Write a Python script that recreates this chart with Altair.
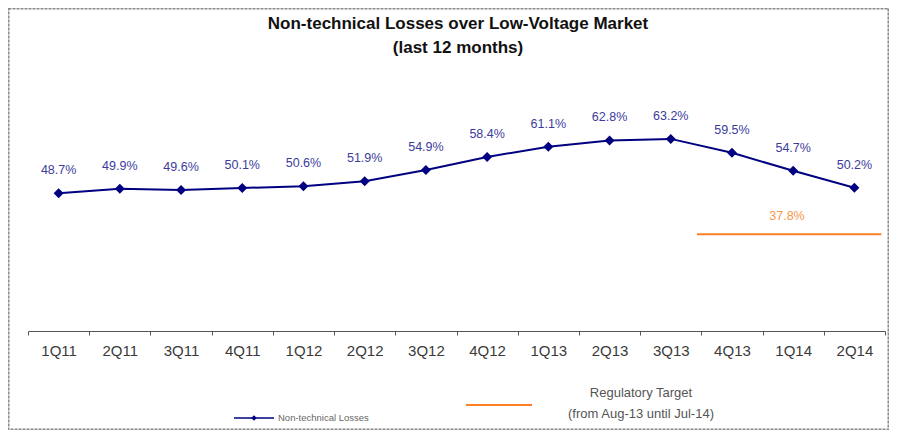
import altair as alt
import pandas as pd

# ---- data ----
quarters = ["1Q11", "2Q11", "3Q11", "4Q11", "1Q12", "2Q12", "3Q12",
            "4Q12", "1Q13", "2Q13", "3Q13", "4Q13", "1Q14", "2Q14"]
losses = [48.7, 49.9, 49.6, 50.1, 50.6, 51.9, 54.9,
          58.4, 61.1, 62.8, 63.2, 59.5, 54.7, 50.2]
target_start = ["4Q13"]
target_end = ["2Q14"]
target_value = [37.8]
title_lines = ["Non-technical Losses over Low-Voltage Market", "(last 12 months)"]
legend_series = "Non-technical Losses"
legend_target = ["Regulatory Target", "(from Aug-13 until Jul-14)"]

FONT = "Liberation Sans"
NAVY = "#000080"
LABEL_BLUE = "#3C3C9C"
ORANGE = "#FF7F27"
ORANGE_TXT = "#F79646"

W, H = 857, 218

df = pd.DataFrame({"quarter": quarters, "loss": losses})
df["label"] = [f"{v:.1f}%" for v in losses]
tdf = pd.DataFrame({"start": target_start, "end": target_end, "value": target_value})
tdf["label"] = [f"{v:.1f}%" for v in target_value]
one = pd.DataFrame({"k": [0]})

xscale = alt.Scale(type="band", domain=quarters, paddingInner=0, paddingOuter=0)
yscale = alt.Scale(domain=[12, 70.1], zero=False, nice=False)

x_enc = alt.X("quarter:N", scale=xscale, sort=quarters,
              axis=alt.Axis(title=None, labelAngle=0, tickBand="extent",
                            domainColor="#555", tickColor="#555", tickSize=4,
                            labelFontSize=15, labelColor="#3a3a3a", labelFont=FONT,
                            labelPadding=8, grid=False))
y_enc = alt.Y("loss:Q", scale=yscale, axis=None)

border = alt.Chart(one).mark_rect(filled=False, stroke="#8a8a8a", strokeWidth=2,
                                  strokeDash=[3, 1]).encode(
    x=alt.value(-19.5), x2=alt.value(860.5), y=alt.value(-104.5), y2=alt.value(316.5))

line = alt.Chart(df).mark_line(color=NAVY, strokeWidth=2).encode(x=x_enc, y=y_enc)
pts = alt.Chart(df).mark_point(shape="diamond", filled=True, size=100, color=NAVY,
                               opacity=1).encode(x=x_enc, y=y_enc)
labels = alt.Chart(df).mark_text(dy=-23, fontSize=12.5, font=FONT, color=LABEL_BLUE).encode(
    x=x_enc, y=y_enc, text="label:N")

target = alt.Chart(tdf).mark_rule(color=ORANGE, strokeWidth=2, xOffset=-35, x2Offset=27).encode(
    x=alt.X("start:N", scale=xscale), x2="end:N",
    y=alt.Y("value:Q", scale=yscale))
target_lbl = alt.Chart(tdf).mark_text(dy=-18, fontSize=12.5, font=FONT, color=ORANGE_TXT).encode(
    x=alt.value(759), y=alt.Y("value:Q", scale=yscale), text="label:N")

title1 = alt.Chart(one).mark_text(fontSize=17, fontWeight="bold", font=FONT, color="#111").encode(
    x=alt.value(430), y=alt.value(-89), text=alt.value(title_lines[0]))
title2 = alt.Chart(one).mark_text(fontSize=17, fontWeight="bold", font=FONT, color="#111").encode(
    x=alt.value(430), y=alt.value(-65), text=alt.value(title_lines[1]))

leg_line = alt.Chart(one).mark_rule(color=NAVY, strokeWidth=1.5).encode(
    x=alt.value(206), x2=alt.value(246), y=alt.value(305))
leg_pt = alt.Chart(one).mark_point(shape="diamond", filled=True, size=30, color=NAVY, opacity=1).encode(
    x=alt.value(226), y=alt.value(305))
leg_txt = alt.Chart(one).mark_text(align="left", baseline="middle", fontSize=9.5, font=FONT,
                                   color="#666").encode(
    x=alt.value(250), y=alt.value(305), text=alt.value(legend_series))
leg_orange = alt.Chart(one).mark_rule(color=ORANGE, strokeWidth=2).encode(
    x=alt.value(438), x2=alt.value(504), y=alt.value(292))
leg_t1 = alt.Chart(one).mark_text(fontSize=13, font=FONT, color="#555").encode(
    x=alt.value(613), y=alt.value(280), text=alt.value(legend_target[0]))
leg_t2 = alt.Chart(one).mark_text(fontSize=13, font=FONT, color="#555").encode(
    x=alt.value(613), y=alt.value(301), text=alt.value(legend_target[1]))

chart = alt.layer(border, line, pts, labels, target, target_lbl, title1, title2,
                  leg_line, leg_pt, leg_txt, leg_orange, leg_t1, leg_t2).properties(
    width=W, height=H,
    autosize=alt.AutoSizeParams(type="none"),
    padding={"left": 20, "top": 105, "right": 4, "bottom": 99},
    background="white",
).configure_view(stroke=None)

chart.save("out.html", embed_options={"renderer": "svg", "actions": False})
